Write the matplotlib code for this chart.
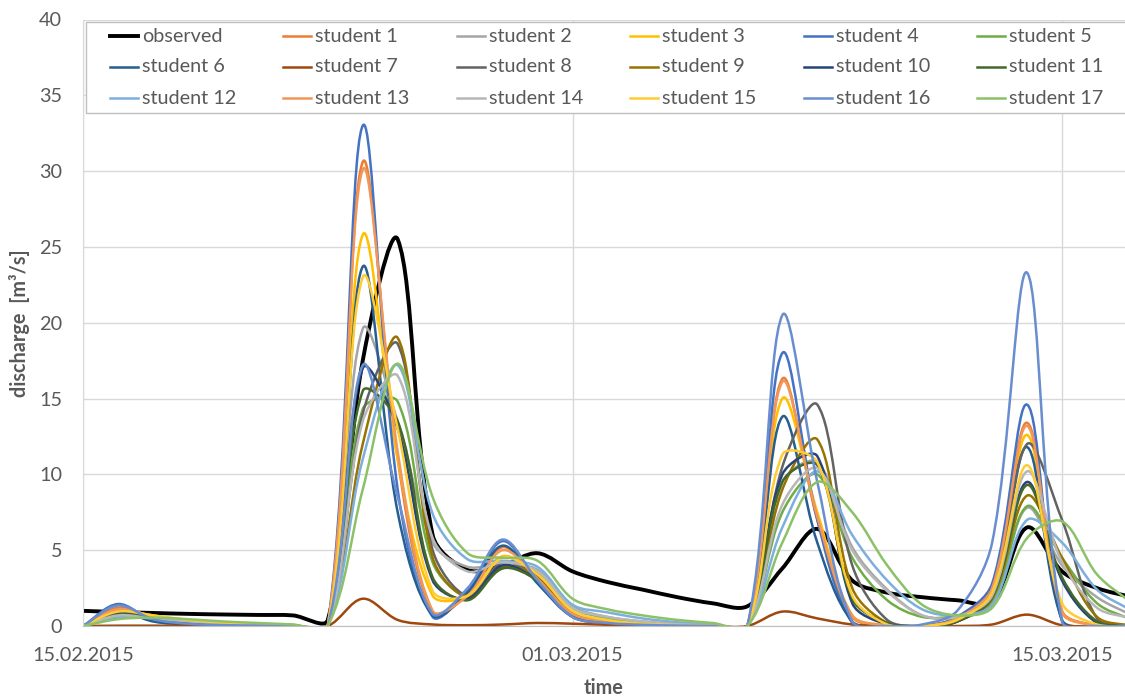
"""
Observed vs. simulated discharge (17 students), Feb/Mar 2015
Excel-style chart with smoothed lines, saved as out.png
"""
import numpy as np
import pandas as pd
import matplotlib
matplotlib.use("Agg")
import matplotlib.pyplot as plt
import matplotlib.dates as mdates
from matplotlib.path import Path
from matplotlib.patches import PathPatch, Rectangle
from matplotlib.lines import Line2D

# ---- data: daily discharge [m3/s], 15.02.2015 .. 17.03.2015 ----
dates = pd.date_range("2015-02-15", periods=31, freq="D")

observed = [1.0, 0.92, 0.86, 0.8, 0.76, 0.73, 0.7, 0.4, 17.5, 25.5, 6.0, 3.7, 4.0, 4.8, 3.6, 2.9,
            2.4, 1.9, 1.5, 1.3, 3.8, 6.4, 3.0, 2.2, 1.9, 1.7, 1.6, 6.5, 3.6, 2.5, 1.9]
student_1 = [0, 1.2, 0.6, 0.35, 0.2, 0.1, 0.05, 0, 30.6, 11.0, 0.9, 2.1, 5.2, 3.0, 0.8, 0.3,
             0.12, 0.05, 0.02, 0, 16.3, 7.0, 0.6, 0.05, 0, 0.5, 2.6, 13.4, 1.0, 0.05, 0]
student_2 = [0, 0.7, 0.55, 0.35, 0.2, 0.1, 0.05, 0, 19.6, 13.5, 5.5, 3.9, 4.1, 3.7, 1.3, 0.6,
             0.3, 0.15, 0.05, 0, 9.5, 10.8, 5.2, 2.4, 0.7, 0.6, 1.6, 7.8, 4.0, 1.9, 0.7]
student_3 = [0, 1.0, 0.7, 0.4, 0.25, 0.12, 0.05, 0, 25.8, 11.0, 2.0, 2.0, 4.6, 3.3, 0.9, 0.35,
             0.15, 0.05, 0.02, 0, 15.0, 7.5, 0.7, 0.05, 0, 0.4, 2.2, 12.6, 0.9, 0.05, 0]
student_4 = [0, 1.45, 0.35, 0.12, 0.05, 0.02, 0.01, 0, 33.0, 9.0, 0.6, 2.3, 5.6, 2.9, 0.6, 0.2,
             0.08, 0.03, 0.01, 0, 18.0, 7.0, 0.2, 0, 0, 0.6, 2.8, 14.6, 0.3, 0, 0]
student_5 = [0, 0.55, 0.5, 0.35, 0.2, 0.12, 0.06, 0, 14.3, 14.8, 4.2, 2.0, 3.8, 3.5, 1.2, 0.5,
             0.25, 0.1, 0.05, 0, 7.5, 10.0, 4.5, 1.7, 0.6, 0.7, 1.6, 7.9, 4.5, 1.5, 0.4]
student_6 = [0, 0.95, 0.3, 0.1, 0.05, 0.02, 0.01, 0, 23.7, 7.5, 0.7, 2.2, 5.3, 2.8, 0.6, 0.2,
             0.08, 0.03, 0.01, 0, 13.8, 5.5, 0.3, 0, 0, 0.5, 2.4, 11.8, 0.4, 0, 0]
student_7 = [0, 0.02, 0.02, 0.02, 0.02, 0.02, 0.02, 0, 1.8, 0.4, 0.1, 0.05, 0.1, 0.2, 0.15, 0.08,
             0.03, 0, 0, 0, 0.95, 0.5, 0.1, 0, 0, 0, 0.1, 0.75, 0.05, 0, 0]
student_8 = [0, 0.8, 0.55, 0.3, 0.15, 0.08, 0.04, 0, 14.0, 18.6, 5.0, 2.0, 4.2, 3.2, 0.8, 0.3,
             0.12, 0.05, 0.02, 0, 10.5, 14.6, 4.0, 0.4, 0, 0.3, 2.0, 12.0, 7.0, 0.5, 0]
student_9 = [0, 0.8, 0.6, 0.35, 0.2, 0.1, 0.05, 0, 12.0, 19.0, 4.5, 1.9, 3.9, 3.3, 0.8, 0.3,
             0.12, 0.05, 0.02, 0, 9.0, 12.3, 2.5, 0.2, 0, 0.3, 1.8, 8.6, 4.5, 0.6, 0]
student_10 = [0, 0.85, 0.5, 0.25, 0.12, 0.06, 0.03, 0, 17.0, 13.0, 3.0, 1.8, 4.0, 3.0, 0.7, 0.25,
              0.1, 0.04, 0.02, 0, 10.0, 11.2, 1.5, 0.1, 0, 0.3, 2.0, 9.5, 3.0, 0.2, 0]
student_11 = [0, 0.75, 0.55, 0.3, 0.15, 0.08, 0.04, 0, 15.5, 13.5, 3.2, 1.7, 3.8, 3.0, 0.8, 0.3,
              0.12, 0.05, 0.02, 0, 9.5, 10.6, 1.8, 0.2, 0, 0.3, 1.9, 9.3, 3.2, 0.3, 0]
student_12 = [0, 0.6, 0.5, 0.35, 0.2, 0.12, 0.06, 0, 11.0, 17.2, 7.4, 4.4, 4.3, 3.9, 1.4, 0.9,
              0.5, 0.25, 0.1, 0, 6.5, 10.2, 6.0, 3.0, 1.1, 0.7, 1.4, 7.0, 5.5, 2.4, 1.0]
student_13 = [0, 1.1, 0.65, 0.35, 0.2, 0.1, 0.05, 0, 30.1, 11.5, 1.0, 2.0, 5.0, 3.1, 0.8, 0.3,
              0.12, 0.05, 0.02, 0, 16.1, 7.2, 0.7, 0.05, 0, 0.5, 2.5, 13.2, 0.9, 0.05, 0]
student_14 = [0, 0.7, 0.5, 0.3, 0.18, 0.1, 0.05, 0, 13.5, 16.5, 5.8, 3.6, 4.2, 3.6, 1.2, 0.6,
              0.3, 0.12, 0.05, 0, 8.0, 10.4, 5.0, 2.3, 0.7, 0.6, 2.0, 10.2, 4.2, 1.2, 0.5]
student_15 = [0, 0.95, 0.7, 0.4, 0.22, 0.12, 0.05, 0, 23.0, 13.0, 2.3, 2.0, 4.5, 3.4, 1.0, 0.4,
              0.15, 0.05, 0.02, 0, 11.3, 10.8, 2.0, 0.1, 0, 0.4, 2.2, 10.6, 1.5, 0.1, 0]
student_16 = [0, 1.35, 0.45, 0.15, 0.06, 0.03, 0.01, 0, 17.2, 8.5, 0.8, 2.5, 5.7, 3.0, 0.6, 0.2,
              0.08, 0.03, 0.01, 0, 20.5, 9.5, 0.3, 0, 0.1, 1.0, 5.5, 23.3, 0.3, 0, 0]
student_17 = [0, 0.45, 0.55, 0.45, 0.3, 0.2, 0.1, 0, 9.0, 17.3, 8.5, 4.8, 4.5, 4.3, 1.8, 1.1,
              0.7, 0.4, 0.2, 0, 5.5, 9.5, 7.5, 4.0, 1.4, 0.7, 1.2, 5.8, 6.9, 3.4, 1.5]

series = [observed, student_1, student_2, student_3, student_4, student_5, student_6,
          student_7, student_8, student_9, student_10, student_11, student_12,
          student_13, student_14, student_15, student_16, student_17]
names = ["observed"] + ["student %d" % i for i in range(1, 18)]
colors = ["#000000", "#ED7D31", "#A5A5A5", "#FFC000", "#4472C4", "#70AD47",
          "#255E91", "#9E480E", "#636363", "#997300", "#264478", "#43682B",
          "#7CAFDD", "#F1975A", "#B7B7B7", "#FFCD33", "#698ED0", "#8CC168"]
tick_dates = ["2015-02-15", "2015-03-01", "2015-03-15"]

W, H = 1125, 698
TXT = "#595959"
FS = 14.3
plt.rcParams["font.family"] = ["Lato", "DejaVu Sans"]


def smooth_path(ax, x, y):
    # Excel "smoothed line": one cubic Bezier per segment, control points from
    # the neighbour tangent, scaled by the on-screen segment lengths
    pts = ax.transData.transform(np.column_stack([x, y]))
    n = len(pts)
    verts, codes = [pts[0]], [Path.MOVETO]
    for i in range(n - 1):
        p0, p1 = pts[max(i - 1, 0)], pts[i]
        p2, p3 = pts[i + 1], pts[min(i + 2, n - 1)]
        d01 = np.hypot(*(p1 - p0))
        d12 = np.hypot(*(p2 - p1))
        d23 = np.hypot(*(p3 - p2))
        f1 = d12 / (d01 + d12) / 3 if d01 + d12 > 0 else 0
        f2 = d12 / (d12 + d23) / 3 if d12 + d23 > 0 else 0
        verts += [p1 + (p2 - p0) * f1, p2 - (p3 - p1) * f2, p2]
        codes += [Path.CURVE4] * 3
    return Path(ax.transData.inverted().transform(np.array(verts)), codes)


fig = plt.figure(figsize=(W / 100, H / 100), dpi=100)
ax = fig.add_axes([83 / W, 1 - 626 / H, 1 - 83 / W, (626 - 19.5) / H])

x = mdates.date2num(dates.to_pydatetime())
ax.set_xlim(x[0], x[0] + 29.8)
ax.set_ylim(0, 40)
ax.set_yticks(range(0, 41, 5))
ax.set_xticks(mdates.date2num(pd.to_datetime(tick_dates).to_pydatetime()))
ax.xaxis.set_major_formatter(mdates.DateFormatter("%d.%m.%Y"))
ax.grid(True, color="#D9D9D9", lw=1.0)
ax.set_axisbelow(True)
for s in ["top", "right"]:
    ax.spines[s].set_visible(False)
ax.spines["left"].set_color("#D9D9D9")
ax.spines["bottom"].set_color("#BFBFBF")
ax.tick_params(length=0, labelsize=FS, labelcolor=TXT, pad=15)

for vals, col, name in zip(series, colors, names):
    lw = 2.8 if name == "observed" else 1.8
    ax.add_patch(PathPatch(smooth_path(ax, x, vals), fc="none", ec=col, lw=lw,
                           capstyle="round", joinstyle="round"))

# axis titles
fig.text(604 / W, 1 - 688 / H, "time", ha="center", va="center",
         fontsize=FS, fontweight="bold", color=TXT)
fig.text(20 / W, 1 - 323 / H, "discharge  [m³/s]", ha="center", va="center",
         rotation=90, fontsize=FS, fontweight="bold", color=TXT)

# legend: 6 columns, filled row by row like Excel
fig.add_artist(Rectangle((86 / W, 1 - 113 / H), (1135 - 86) / W, (113 - 21.7) / H,
                         transform=fig.transFigure, fc="white", ec="#BFBFBF", lw=1.0))
for k, (col, name) in enumerate(zip(colors, names)):
    r, c = divmod(k, 6)
    x0 = 110 + 173.4 * c
    yy = 1 - (36 + 31 * r) / H
    lw = 2.8 if name == "observed" else 1.8
    fig.add_artist(Line2D([x0 / W, (x0 + 28) / W], [yy, yy], transform=fig.transFigure,
                          color=col, lw=lw))
    fig.text((x0 + 32) / W, yy, name, ha="left", va="center", fontsize=FS, color=TXT)

fig.savefig("out.png", dpi=100)
